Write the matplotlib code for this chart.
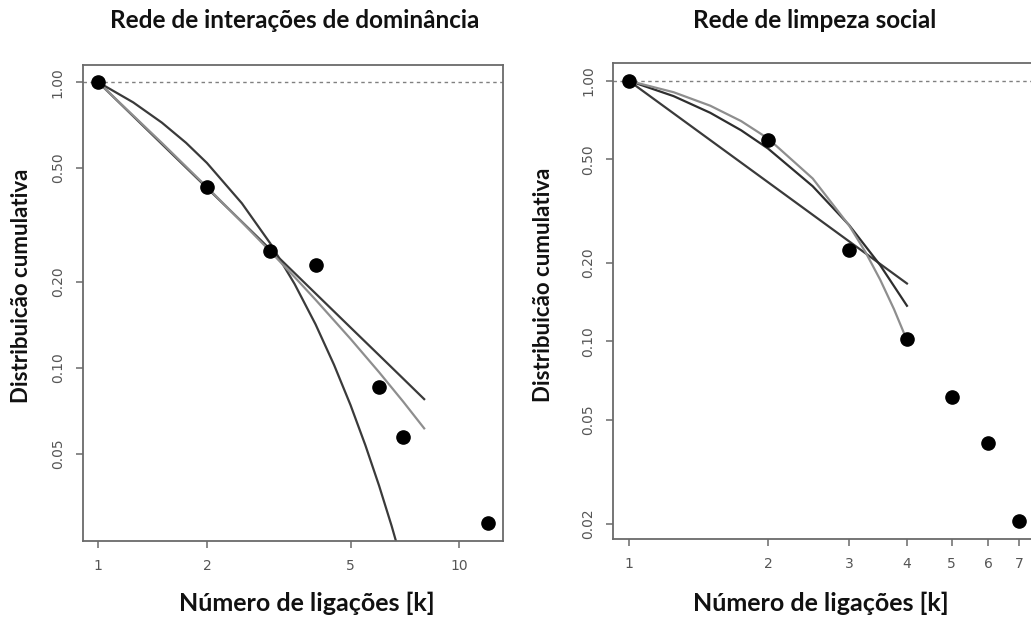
import numpy as np
import matplotlib
matplotlib.use("Agg")
import matplotlib.pyplot as plt
from matplotlib.ticker import FixedLocator, FixedFormatter, NullLocator

# ---------------- data ----------------
# Left panel: dominance interaction network (cumulative degree distribution)
left_k = [1, 2, 3, 4, 6, 7, 12]
left_cdf = [1.0, 0.4286, 0.2571, 0.2286, 0.0857, 0.0571, 0.0286]

# fitted curves
left_pow_x = [1, 2, 3, 4, 5, 6, 7, 8]
left_pow_y = [1.0, 0.4266, 0.2592, 0.1820, 0.1383, 0.1106, 0.0915, 0.0776]
left_cut_x = [1, 1.5, 2, 2.5, 3, 3.5, 4, 5, 6, 7, 8]
left_cut_y = [1.0, 0.613, 0.4295, 0.3235, 0.2551, 0.2077, 0.1730, 0.1262, 0.0964, 0.0760, 0.0613]
left_exp_x = [1, 1.25, 1.5, 1.75, 2, 2.5, 3, 3.5, 4, 4.5, 5, 5.5, 6, 6.5, 7]
left_exp_y = [1.0, 0.8498, 0.7221, 0.6137, 0.5215, 0.3766, 0.2720, 0.1964, 0.1419,
              0.1024, 0.0740, 0.0534, 0.0386, 0.0279, 0.0201]

# Right panel: social grooming network
right_k = [1, 2, 3, 4, 5, 6, 7]
right_cdf = [1.0, 0.5918, 0.2245, 0.1020, 0.0612, 0.0408, 0.0204]

right_pow_x = [1, 2, 3, 4]
right_pow_y = [1.0, 0.4084, 0.2418, 0.1668]
right_mid_x = [1, 1.25, 1.5, 1.75, 2, 2.5, 3, 3.5, 4]
right_mid_y = [1.0, 0.8733, 0.7539, 0.6458, 0.5500, 0.3940, 0.2790, 0.1961, 0.1370]
right_lt_x = [1, 1.25, 1.5, 1.75, 2, 2.5, 3, 3.25, 3.5, 3.75, 4]
right_lt_y = [1.0, 0.904, 0.8026, 0.7005, 0.6012, 0.4219, 0.2781, 0.2207, 0.1725, 0.1329, 0.1010]

left_xticks = [1, 2, 5, 10]
left_xticklabels = ["1", "2", "5", "10"]
left_yticks = [0.05, 0.10, 0.20, 0.50, 1.00]
left_yticklabels = ["0.05", "0.10", "0.20", "0.50", "1.00"]
right_xticks = [1, 2, 3, 4, 5, 6, 7]
right_xticklabels = ["1", "2", "3", "4", "5", "6", "7"]
right_yticks = [0.02, 0.05, 0.10, 0.20, 0.50, 1.00]
right_yticklabels = ["0.02", "0.05", "0.10", "0.20", "0.50", "1.00"]

titles = ["Rede de interações de dominância", "Rede de limpeza social"]
ylabel = "Distribuicão cumulativa"
xlabel = "Número de ligações [k]"

# ---------------- style ----------------
W, H = 1031, 626
fig = plt.figure(figsize=(W / 100, H / 100), dpi=100)

DARK = "#3a3a3a"
LIGHT = "#8e8e8e"
AXC = "#6a6a6a"
TICKC = "#555555"
LBL_FONT = ["Lato", "DejaVu Sans"]


def r_lims(vals):
    lo, hi = np.log10(min(vals)), np.log10(max(vals))
    d = 0.04 * (hi - lo)
    return 10 ** (lo - d), 10 ** (hi + d)


def fig_rect(x0, y0, x1, y1):
    return [x0 / W, 1 - y1 / H, (x1 - x0) / W, (y1 - y0) / H]


def setup(ax, xs, ys, xt, xtl, yt, ytl):
    ax.set_xscale("log")
    ax.set_yscale("log")
    ax.set_xlim(*r_lims(xs))
    ax.set_ylim(*r_lims(ys))
    ax.xaxis.set_major_locator(FixedLocator(xt))
    ax.xaxis.set_major_formatter(FixedFormatter(xtl))
    ax.yaxis.set_major_locator(FixedLocator(yt))
    ax.yaxis.set_major_formatter(FixedFormatter(ytl))
    ax.xaxis.set_minor_locator(NullLocator())
    ax.yaxis.set_minor_locator(NullLocator())
    for s in ax.spines.values():
        s.set_color(AXC)
        s.set_linewidth(1.3)
    ax.tick_params(axis="both", direction="out", length=5, width=1.1,
                   color=AXC, labelcolor=TICKC, labelsize=10)
    ax.tick_params(axis="x", pad=8)
    ax.tick_params(axis="y", pad=8)
    for lab in ax.get_yticklabels():
        lab.set_rotation(90)
        lab.set_va("center")
    ax.axhline(1.0, color="#808080", lw=1.0, ls=(0, (2.5, 2.5)), zorder=1)


axL = fig.add_axes(fig_rect(82.7, 64.6, 503.3, 540.5))
setup(axL, left_k, left_cdf, left_xticks, left_xticklabels, left_yticks, left_yticklabels)
axL.plot(left_exp_x, left_exp_y, color=DARK, lw=1.6, zorder=2)
axL.plot(left_pow_x, left_pow_y, color=DARK, lw=1.6, zorder=2)
axL.plot(left_cut_x, left_cut_y, color=LIGHT, lw=1.6, zorder=2)
axL.plot(left_k, left_cdf, "o", color="black", ms=9.5, zorder=3)

axR = fig.add_axes(fig_rect(613.3, 63.2, 1034.8, 538.9))
setup(axR, right_k, right_cdf, right_xticks, right_xticklabels, right_yticks, right_yticklabels)
axR.plot(right_pow_x, right_pow_y, color=DARK, lw=1.6, zorder=2)
axR.plot(right_mid_x, right_mid_y, color="#2e2e2e", lw=1.6, zorder=2)
axR.plot(right_lt_x, right_lt_y, color=LIGHT, lw=1.6, zorder=2)
axR.plot(right_k, right_cdf, "o", color="black", ms=9.5, zorder=3)

# texts
TXT = "#111111"
fig.text(295 / W, 1 - 21 / H, titles[0], ha="center", va="center",
         fontsize=17.5, fontweight="bold", family=LBL_FONT, color=TXT)
fig.text(815 / W, 1 - 21 / H, titles[1], ha="center", va="center",
         fontsize=17.5, fontweight="bold", family=LBL_FONT, color=TXT)
fig.text(307 / W, 1 - 603 / H, xlabel, ha="center", va="center",
         fontsize=18, fontweight="bold", family=LBL_FONT, color=TXT)
fig.text(821 / W, 1 - 603 / H, xlabel, ha="center", va="center",
         fontsize=18, fontweight="bold", family=LBL_FONT, color=TXT)
fig.text(22 / W, 1 - 286 / H, ylabel, ha="center", va="center", rotation=90,
         fontsize=16, fontweight="bold", family=LBL_FONT, color=TXT)
fig.text(543 / W, 1 - 285 / H, ylabel, ha="center", va="center", rotation=90,
         fontsize=16, fontweight="bold", family=LBL_FONT, color=TXT)

fig.savefig("out.png", dpi=100)
